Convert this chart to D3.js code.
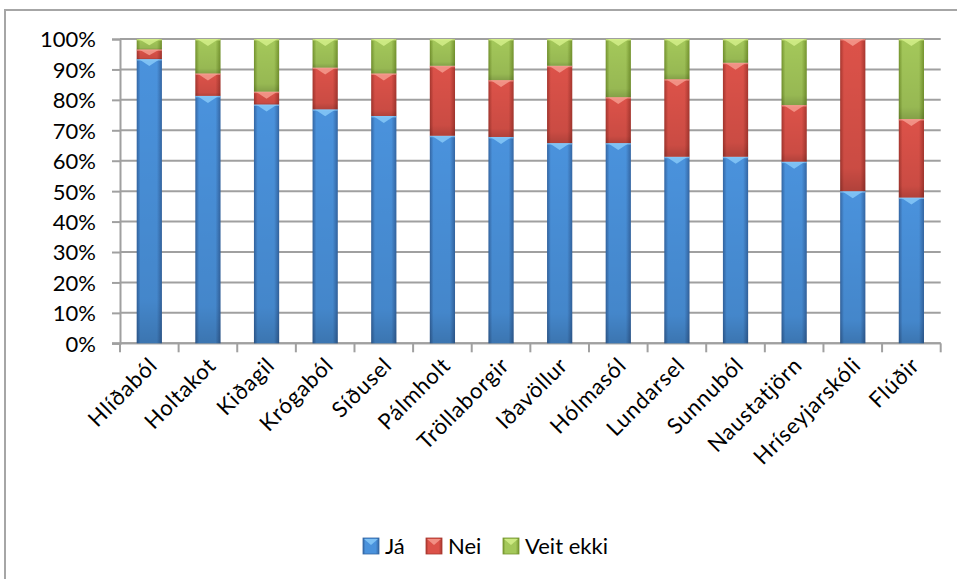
<!DOCTYPE html>
<html>
<head>
<meta charset="utf-8">
<script src="https://cdn.jsdelivr.net/npm/d3@7"></script>
<style>
  body { margin: 0; background: #fff; }
  svg { display: block; font-family: Lato, "Open Sans", sans-serif; }
</style>
</head>
<body>
<div id="chart"></div>
<script>
// Survey answers per kindergarten, percent of respondents
const categories = ["Hlíðaból", "Holtakot", "Kiðagil", "Krógaból", "Síðusel", "Pálmholt",
  "Tröllaborgir", "Iðavöllur", "Hólmasól", "Lundarsel", "Sunnuból", "Naustatjörn",
  "Hríseyjarskóli", "Flúðir"];
const jaValues   = [93.4, 81.3, 78.5, 76.9, 74.7, 68.2, 67.8, 65.8, 65.8, 61.3, 61.3, 59.7, 50.0, 47.9];
const neiValues  = [3.2, 7.4, 4.2, 13.7, 14.0, 23.0, 18.7, 25.4, 15.1, 25.5, 30.9, 18.6, 50.0, 25.8];
const veitValues = [3.4, 11.3, 17.3, 9.4, 11.3, 8.8, 13.5, 8.8, 19.1, 13.2, 7.8, 21.7, 0.0, 26.3];
const seriesNames = ["Já", "Nei", "Veit ekki"];
const yTicks = [0, 0.1, 0.2, 0.3, 0.4, 0.5, 0.6, 0.7, 0.8, 0.9, 1];

const width = 957, height = 579;
const margin = { top: 39, right: 20, bottom: 236, left: 120 };

// palette: [edge, centre, highlight]
const palette = {
  "Já": ["#3466a3", "#4a92dc", "#86c8f8"],
  "Nei": ["#a8372f", "#dc5249", "#f59b8e"],
  "Veit ekki": ["#76962f", "#a4c85a", "#d4ee8a"]
};

const rows = categories.map((c, i) => ({
  name: c, "Já": jaValues[i], "Nei": neiValues[i], "Veit ekki": veitValues[i]
}));

const stack = d3.stack().keys(seriesNames).offset(d3.stackOffsetExpand);
const layers = stack(rows);

const x = d3.scaleBand()
  .domain(categories)
  .range([margin.left, width - margin.right + 3.7])
  .paddingInner(0.57)
  .paddingOuter(0.285);

const y = d3.scaleLinear()
  .domain([0, 1])
  .range([343.3, margin.top]);

const svg = d3.select("#chart").append("svg")
  .attr("width", width)
  .attr("height", height);

// Gradients for the bevelled bar look
const defs = svg.append("defs");
seriesNames.forEach((s, i) => {
  const [edge, mid] = palette[s];
  const g = defs.append("linearGradient")
    .attr("id", "grad" + i)
    .attr("x1", "0").attr("x2", "1").attr("y1", "0").attr("y2", "0");
  g.append("stop").attr("offset", "0%").attr("stop-color", edge);
  g.append("stop").attr("offset", "15%").attr("stop-color", mid);
  g.append("stop").attr("offset", "80%").attr("stop-color", mid);
  g.append("stop").attr("offset", "100%").attr("stop-color", edge);
});
const shade = defs.append("linearGradient")
  .attr("id", "shade")
  .attr("x1", "0").attr("x2", "0").attr("y1", "0").attr("y2", "1");
shade.append("stop").attr("offset", "0%").attr("stop-color", "#000").attr("stop-opacity", 0);
shade.append("stop").attr("offset", "85%").attr("stop-color", "#000").attr("stop-opacity", 0.08);
shade.append("stop").attr("offset", "100%").attr("stop-color", "#000").attr("stop-opacity", 0.2);

// Chart frame (only top and left edges fall inside the window)
svg.append("rect")
  .attr("x", 5).attr("y", 10)
  .attr("width", 1000).attr("height", 700)
  .attr("fill", "none")
  .attr("stroke", "#a6a6a6")
  .attr("stroke-width", 2);

// Gridlines
svg.append("g")
  .selectAll("line")
  .data(yTicks)
  .enter()
  .append("line")
  .attr("x1", margin.left)
  .attr("x2", x.range()[1])
  .attr("y1", d => y(d))
  .attr("y2", d => y(d))
  .attr("stroke", "#a0a0a0")
  .attr("stroke-width", 2);

// Y axis
const yAxis = svg.append("g")
  .attr("transform", `translate(${margin.left},0)`)
  .call(d3.axisLeft(y).tickValues(yTicks).tickFormat(d3.format(".0%")).tickSize(8).tickPadding(16));
yAxis.select(".domain").attr("stroke", "#a0a0a0").attr("stroke-width", 2);
yAxis.selectAll(".tick line").attr("stroke", "#a0a0a0").attr("stroke-width", 2);
yAxis.selectAll("text")
  .attr("font-size", "22px")
  .attr("font-family", "Lato, sans-serif")
  .attr("fill", "#000")
  .attr("dy", "0.36em");

// X axis with ticks between categories
const step = x.step();
const xTickPos = d3.range(categories.length + 1).map(i => margin.left + i * step);
const xAxisG = svg.append("g");
xAxisG.append("line")
  .attr("x1", margin.left - 8).attr("x2", xTickPos[xTickPos.length - 1])
  .attr("y1", y(0)).attr("y2", y(0))
  .attr("stroke", "#a0a0a0").attr("stroke-width", 2);
xAxisG.selectAll("line.tick")
  .data(xTickPos)
  .enter()
  .append("line")
  .attr("class", "tick")
  .attr("x1", d => d).attr("x2", d => d)
  .attr("y1", y(0)).attr("y2", y(0) + 9)
  .attr("stroke", "#a0a0a0").attr("stroke-width", 2);

// Bars
const bw = x.bandwidth();
layers.forEach((layer, li) => {
  const s = seriesNames[li];
  const segs = svg.append("g").selectAll("g")
    .data(layer.filter(d => d[1] - d[0] > 0.0001))
    .enter()
    .append("g");

  segs.append("rect")
    .attr("x", d => x(d.data.name))
    .attr("y", d => y(d[1]))
    .attr("width", bw)
    .attr("height", d => y(d[0]) - y(d[1]))
    .attr("fill", `url(#grad${li})`);

  segs.append("rect")
    .attr("x", d => x(d.data.name))
    .attr("y", d => y(d[1]))
    .attr("width", bw)
    .attr("height", d => y(d[0]) - y(d[1]))
    .attr("fill", "url(#shade)");

  // bevel highlight chevron at top of each segment
  segs.append("path")
    .attr("d", d => {
      const x0 = x(d.data.name), y0 = y(d[1]);
      const h = Math.min(7, (y(d[0]) - y(d[1])) * 0.6);
      return `M${x0 + 2},${y0} L${x0 + bw - 2},${y0} L${x0 + bw / 2},${y0 + h} Z`;
    })
    .attr("fill", palette[s][2])
    .attr("opacity", 0.85);

  segs.append("rect")
    .attr("x", d => x(d.data.name))
    .attr("y", d => y(d[1]))
    .attr("width", bw)
    .attr("height", 1.5)
    .attr("fill", palette[s][2])
    .attr("opacity", 0.7);
});

// Category labels, rotated
svg.append("g")
  .selectAll("text")
  .data(categories)
  .enter()
  .append("text")
  .attr("transform", d => `translate(${x(d) + bw / 2 + 4},${y(0) + 18}) rotate(-45)`)
  .attr("text-anchor", "end")
  .attr("dy", "0.35em")
  .attr("font-size", "22px")
  .attr("letter-spacing", "0.8px")
  .attr("fill", "#000")
  .text(d => d);

// Legend
const legendItems = [
  { name: "Já", x: 363 },
  { name: "Nei", x: 426 },
  { name: "Veit ekki", x: 503 }
];
const legend = svg.append("g")
  .selectAll("g")
  .data(legendItems)
  .enter()
  .append("g")
  .attr("transform", d => `translate(${d.x},538)`);
legend.append("rect")
  .attr("width", 16).attr("height", 16)
  .attr("fill", d => `url(#grad${seriesNames.indexOf(d.name)})`)
  .attr("stroke", d => palette[d.name][0])
  .attr("stroke-width", 0.8);
legend.append("path")
  .attr("d", "M1,1 L15,1 L8,7 Z")
  .attr("fill", d => palette[d.name][2])
  .attr("opacity", 0.85);
legend.append("text")
  .attr("x", 22)
  .attr("y", 8)
  .attr("dy", "0.36em")
  .attr("font-size", "22px")
  .attr("fill", "#000")
  .text(d => d.name);
</script>
</body>
</html>
